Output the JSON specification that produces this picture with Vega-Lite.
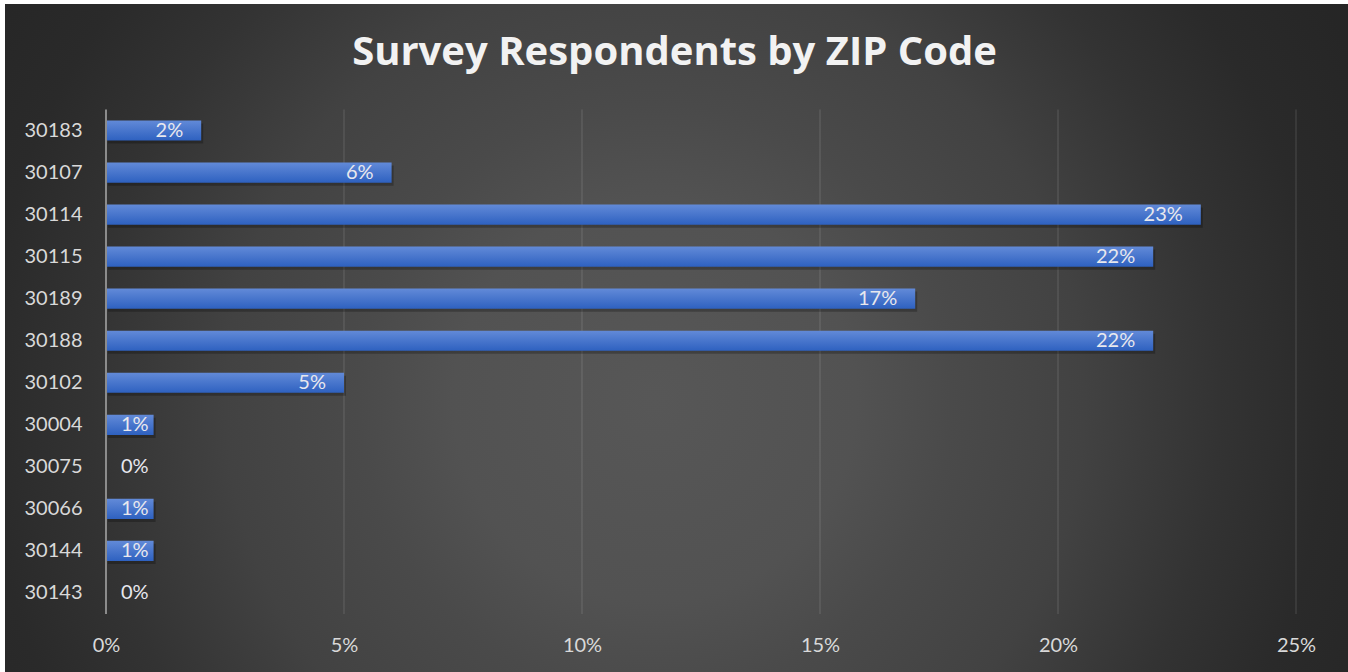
{
  "$schema": "https://vega.github.io/schema/vega-lite/v6.json",
  "width": 1343,
  "height": 668,
  "autosize": {"type": "none"},
  "padding": {"left": 5, "top": 4, "right": 0, "bottom": 0},
  "background": "#ffffff",
  "title": {
    "text": "Survey Respondents by ZIP Code",
    "font": "Open Sans",
    "fontSize": 40,
    "fontWeight": "bold",
    "color": "#f2f2f2",
    "anchor": "middle",
    "frame": "group",
    "baseline": "alphabetic",
    "offset": -101,
    "dx": -2
  },
  "config": {
    "view": {
      "stroke": null,
      "fill": {
        "gradient": "radial",
        "x1": 0.484, "y1": 0.546, "r1": 0,
        "x2": 0.484, "y2": 0.546, "r2": 0.6,
        "stops": [
          {"offset": 0, "color": "#575757"},
          {"offset": 0.25, "color": "#525252"},
          {"offset": 0.367, "color": "#4a4a4a"},
          {"offset": 0.533, "color": "#424242"},
          {"offset": 0.7, "color": "#333333"},
          {"offset": 0.833, "color": "#2a2a2a"},
          {"offset": 0.967, "color": "#262626"},
          {"offset": 1, "color": "#262626"}
        ]
      }
    },
    "axis": {"labelFont": "Lato", "labelFontSize": 20, "labelColor": "#d9d9d9", "grid": false, "domain": false, "ticks": false, "tickSize": 0}
  },
  "layer": [
    {
      "data": {"values": [{"tick": 0.05}, {"tick": 0.10}, {"tick": 0.15}, {"tick": 0.20}, {"tick": 0.25}]},
      "mark": {"type": "rule", "color": "#ffffff", "strokeOpacity": 0.08, "strokeWidth": 2},
      "encoding": {
        "x": {"field": "tick", "type": "quantitative", "title": null},
        "y": {"datum": "30183", "type": "nominal", "bandPosition": -0.5417, "title": null},
        "y2": {"datum": "30143", "bandPosition": 1.5417}
      }
    },
    {
      "data": {"name": "zips", "values": [
        {"zip": "30183", "share": 0.02},
        {"zip": "30107", "share": 0.06},
        {"zip": "30114", "share": 0.23},
        {"zip": "30115", "share": 0.22},
        {"zip": "30189", "share": 0.17},
        {"zip": "30188", "share": 0.22},
        {"zip": "30102", "share": 0.05},
        {"zip": "30004", "share": 0.01},
        {"zip": "30075", "share": 0.00},
        {"zip": "30066", "share": 0.01},
        {"zip": "30144", "share": 0.01},
        {"zip": "30143", "share": 0.00}
      ]},
      "layer": [
        {
          "mark": {"type": "bar", "color": "#000000", "opacity": 0.25, "xOffset": 2, "yOffset": 3},
          "encoding": {
            "x": {"field": "share", "type": "quantitative", "title": null},
            "y": {"field": "zip", "type": "nominal", "title": null}
          }
        },
        {
          "mark": {
            "type": "bar",
            "fill": {
              "gradient": "linear", "x1": 0, "y1": 0, "x2": 0, "y2": 1,
              "stops": [{"offset": 0, "color": "#628ad8"}, {"offset": 1, "color": "#2e61c0"}]
            }
          },
          "encoding": {
            "x": {
              "field": "share", "type": "quantitative", "title": null,
              "scale": {"domain": [-0.021218, 0.260924], "nice": false, "zero": false},
              "axis": {"values": [0, 0.05, 0.1, 0.15, 0.2, 0.25], "format": ".0%", "offset": -27, "labelPadding": 0, "labelBaseline": "middle", "title": null}
            },
            "y": {
              "field": "zip", "type": "nominal", "title": null,
              "scale": {
                "domain": ["30183", "30107", "30114", "30115", "30189", "30188", "30102", "30004", "30075", "30066", "30144", "30143"],
                "range": [105.5, 610],
                "paddingInner": 0.52, "paddingOuter": 0.26
              },
              "axis": {"offset": -85, "labelPadding": 8, "title": null}
            }
          }
        },
        {
          "transform": [{"filter": "datum.share >= 0.02"}],
          "mark": {"type": "text", "align": "right", "baseline": "middle", "dx": -18, "font": "Lato", "fontSize": 20, "color": "#e8e8ee"},
          "encoding": {
            "x": {"field": "share", "type": "quantitative", "title": null},
            "y": {"field": "zip", "type": "nominal", "title": null},
            "text": {"field": "share", "type": "quantitative", "format": ".0%"}
          }
        },
        {
          "transform": [{"filter": "datum.share < 0.02"}],
          "mark": {"type": "text", "align": "left", "baseline": "middle", "dx": 15, "font": "Lato", "fontSize": 20, "color": "#e8e8ee"},
          "encoding": {
            "x": {"datum": 0, "type": "quantitative", "title": null},
            "y": {"field": "zip", "type": "nominal", "title": null},
            "text": {"field": "share", "type": "quantitative", "format": ".0%"}
          }
        }
      ]
    },
    {
      "data": {"values": [{"tick": 0}]},
      "mark": {"type": "rule", "color": "#8c8c8c", "strokeWidth": 2},
      "encoding": {
        "x": {"field": "tick", "type": "quantitative", "title": null},
        "y": {"datum": "30183", "type": "nominal", "bandPosition": -0.5417, "title": null},
        "y2": {"datum": "30143", "bandPosition": 1.5417}
      }
    }
  ]
}
